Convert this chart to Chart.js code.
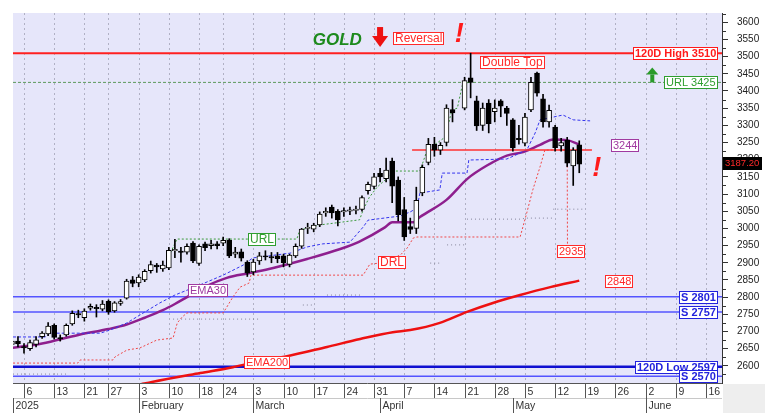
<!DOCTYPE html>
<html><head><meta charset="utf-8">
<script src="https://cdn.jsdelivr.net/npm/chart.js@4.4.1/dist/chart.umd.min.js"></script>
<style>html,body{margin:0;padding:0;background:#fff;overflow:hidden}canvas{display:block}</style>
</head><body>
<canvas id="c" width="781" height="415"></canvas>
<script>
// ---------- DATA ----------
const dates = ['Jan 2','Jan 3','Jan 6','Jan 7','Jan 8','Jan 9','Jan 10','Jan 13','Jan 14','Jan 15','Jan 16','Jan 17','Jan 21','Jan 22','Jan 23','Jan 24','Jan 27','Jan 28','Jan 29','Jan 30','Jan 31',
 'Feb 3','Feb 4','Feb 5','Feb 6','Feb 7','Feb 10','Feb 11','Feb 12','Feb 13','Feb 14','Feb 18','Feb 19','Feb 20','Feb 21','Feb 24','Feb 25','Feb 26','Feb 27','Feb 28',
 'Mar 3','Mar 4','Mar 5','Mar 6','Mar 7','Mar 10','Mar 11','Mar 12','Mar 13','Mar 14','Mar 17','Mar 18','Mar 19','Mar 20','Mar 21','Mar 24','Mar 25','Mar 26','Mar 27','Mar 28','Mar 31',
 'Apr 1','Apr 2','Apr 3','Apr 4','Apr 7','Apr 8','Apr 9','Apr 10','Apr 11','Apr 14','Apr 15','Apr 16','Apr 17','Apr 18','Apr 21','Apr 22','Apr 23','Apr 24','Apr 25','Apr 28','Apr 29','Apr 30',
 'May 1','May 2','May 5','May 6','May 7','May 8','May 9','May 12','May 13','May 14','May 15','May 16'];

const open = [2662,2672,2656,2650,2662,2685,2693,2718,2682,2690,
 2722,2752,2740,2768,2770,2765,2788,2760,2782,2797,
 2850,2841,2850,2877,2893,2882,2885,2935,2934,2931,
 2957,2898,2955,2950,2955,2957,2966,2925,2932,2902,
 2873,2905,2920,2918,2920,2920,2895,2920,2948,3000,
 2998,3010,3045,3062,3050,3048,3050,3052,3055,3110,
 3122,3160,3145,3196,3141,3055,3005,3000,3103,3192,
 3245,3228,3250,3346,null,3350,3438,3371,3300,3365,
 3340,3371,3350,3316,3262,3248,3345,3452,3377,3310,
 3295,3240,3257,3182,3243];
const high = [2682,2685,2665,2675,2685,2700,2726,2722,2690,2722,
 2760,2762,2766,2780,2778,2790,2792,2787,2793,2852,
 2860,2865,2880,2905,2898,2905,2945,2968,2945,2955,
 2962,2952,2960,2965,2962,2975,2970,2945,2940,2906,
 2910,2930,2935,2930,2930,2925,2925,2955,3000,3015,
 3015,3048,3060,3068,3055,3060,3062,3065,3095,3135,
 3160,3175,3205,3205,3150,3090,3030,3120,3185,3262,
 3265,3250,3360,3375,null,3440,3510,3385,3365,3375,
 3374,3375,3355,3320,3300,3335,3440,3455,3390,3359,
 3300,3262,3265,3235,3255];
const low = [2652,2655,2637,2645,2655,2680,2688,2678,2672,2686,
 2718,2740,2730,2762,2742,2760,2750,2756,2776,2794,
 2830,2830,2845,2870,2872,2875,2880,2915,2902,2925,
 2900,2892,2935,2940,2940,2950,2915,2915,2905,2860,
 2865,2895,2908,2900,2900,2888,2888,2915,2942,2985,
 2990,3005,3035,3030,3007,3035,3040,3042,3050,3100,
 3115,3135,3135,3075,3022,2965,2985,2985,3095,3185,
 3210,3215,3240,3310,null,3345,3380,3285,3285,3278,
 3310,3325,3300,3225,3245,3240,3340,3385,3295,3295,
 3225,3225,3180,3125,3162];
const close = [2672,2664,2652,2668,2676,2695,2716,2683,2678,2718,
 2753,2748,2759,2773,2766,2780,2757,2783,2787,2847,
 2840,2858,2875,2895,2888,2893,2936,2939,2930,2948,
 2905,2948,2944,2955,2950,2965,2920,2931,2913,2870,
 2902,2920,2917,2914,2912,2900,2922,2948,2998,3003,
 3010,3042,3050,3045,3025,3052,3054,3056,3090,3128,
 3150,3150,3170,3123,3040,2975,2997,3082,3178,3245,
 3228,3242,3350,3336,null,3430,3425,3298,3350,3305,
 3350,3356,3335,3234,3258,3324,3425,3394,3310,3344,
 3235,3250,3190,3228,3187.2];

// indicator lines (trading-day index, value)
const ema30Idx = [0,5,11,16,19,22,25,27,29,32,35.6,39.4,43.3,48.9,54.4,57.5,61.8,63,66.5,67.6,72,75.5,78.7,82,84.7,87.5,89.7,92,94];
const ema30Val = [2652,2665,2690,2707,2720,2740,2762,2780,2800,2830,2856,2870,2885,2911,2940,2961,3003,3018,3018,3033,3083,3145,3183,3212,3222,3243,3259,3257,3244];
const ema200Idx = [21.3,23.2,31.2,36.6,41.1,45.6,52.2,57.7,63.1,66,70.9,75.4,79.7,84.2,89.2,94];
const ema200Val = [2546,2553,2579,2596,2614,2628,2655,2678,2698,2704,2725,2757,2783,2806,2829,2848];
const blueIdx = [0.18,5.5,6.3,14.6,16.25,19.07,22.05,24.5,27,30.7,35,38.3,39.9,46.1,48.9,51.5,56,58.2,59,64.3,66,67.1,67.6,70.9,71.3,75.4,75.7,82,85.3,86.7,87.5,91.3,93,95.8];
const blueVal = [2684,2684,2695,2695,2704,2725,2757,2783,2806,2832,2864,2893,2914,2928,2946,2955,2960,3004,3024,3036,3048,3059,3103,3112,3161,3161,3199,3202,3228,3278,3316,3330,3316,3313];
const drlIdx = [0.18,10.9,11.3,16.75,17.08,19.07,21.2,24,26.7,27.4,28.2,29,35,35.6,36.6,37.8,39.3,39.6,58.2,59.3,61,62.5,64.5,65.5,66.5,67.1,84.2,85.3,86.3,87.5,88.3,92,92.05];
const drlVal = [2608,2608,2617,2617,2626,2646,2652,2675,2681,2725,2742,2754,2754,2771,2800,2829,2841,2864,2864,2896,2899,2905,2925,2943,2972,2975,2975,3045,3112,3179,3228,3228,2935];
const urlIdx = [25.7,27.35,47.2,47.7,51,57.6,58.2,59.2,60.5,62.4,63.2,67.6,68.8,71.8,72.9,73.8,74.7,75.9];
const urlVal = [2908,2969,2969,2995,3010,3025,3054,3090,3120,3150,3167,3167,3228,3266,3345,3350,3423,3425];
const greyIdx = [0.18,9.1,9.1,26.7,41.1,41.1,48.2,50.2,50.2,52.2,57.7,57.7,69.3,70.9,70.9,72.1,75.4,75.4,75.4,84.2,85.3,89.7,89.7,89.7,94.5];
const greyVal = [2576,2576,null,2736,2736,null,2777,2777,null,2806,2806,null,2899,2899,null,2952,2952,null,3027,3027,3030,3030,null,3056,3056];

// horizontal levels
const levelHigh = 3510, levelURL = 3425, levelS1 = 2801, levelS2 = 2757, levelLow = 2597, levelS3 = 2570;
const necklineVal = 3228, necklineIdx = [66.3, 96.1];

// axis labels
const weekTickIdx = [2,7,12,16,21,26,31,35,40,45,50,55,60,65,70,75,80,85,90,95,100,105,110,115];
const weekTickLabels = ['6','13','21','27','3','10','18','24','3','10','17','24','31','7','14','21','28','5','12','19','26','2','9','16'];
const monthIdx = [0.18,21,40,61,83,105];
const monthLabels = ['2025','February','March','April','May','June'];
const yTickValues = [2600,2650,2700,2750,2800,2850,2900,2950,3000,3050,3100,3150,3200,3250,3300,3350,3400,3450,3500,3550,3600];
const yMinorValues = [2575,2625,2675,2725,2775,2825,2875,2925,2975,3025,3075,3125,3175,3225,3275,3325,3375,3425,3475,3525,3575,3625];

// ---------- LAYOUT CONSTANTS ----------
const X_MIN = 0.1774, X_MAX = 117.651, Y_MIN = 2550, Y_MAX = 3627;
const FONT = 'Liberation Sans, Arial, sans-serif';

// annotations (anchor in data coords)
const notes = [
  {t:'120D High 3510', v:levelHigh, right:true, c:'#ff1a1a', f:'bold 11px '+FONT},
  {t:'URL 3425', v:levelURL, right:true, c:'#2f9e2f', f:'11px '+FONT},
  {t:'S 2801', v:levelS1, right:true, c:'#2222dd', f:'bold 11px '+FONT},
  {t:'S 2757', v:levelS2, right:true, c:'#2222dd', f:'bold 11px '+FONT},
  {t:'120D Low 2597', v:levelLow, right:true, c:'#2222dd', f:'bold 11px '+FONT},
  {t:'S 2570', v:levelS3, right:true, c:'#2222dd', f:'bold 11px '+FONT},
  {t:'3244', i:101.6, v:3244, c:'#a03aa0', f:'11px '+FONT},
  {t:'2848', i:100.6, v:2848, c:'#ff2a2a', f:'11px '+FONT},
  {t:'2935', i:92.6, v:2935, c:'#ff2a2a', f:'11px '+FONT},
  {t:'EMA30', i:32.5, v:2822, c:'#a03aa0', f:'11px '+FONT},
  {t:'EMA200', i:42.2, v:2612, c:'#ff2a2a', f:'11px '+FONT},
  {t:'URL', i:41.5, v:2968, c:'#2f9e2f', f:'12px '+FONT},
  {t:'DRL', i:62.9, v:2902, c:'#ff2a2a', f:'12px '+FONT},
  {t:'Double Top', i:82.9, v:3483, c:'#ff2a2a', f:'12px '+FONT},
  {t:'Reversal', i:67.3, v:3554, c:'#ff2a2a', f:'12px '+FONT}
];

// ---------- BUILD ----------
const wickData = [], bodyData = [];
dates.forEach((d, i) => {
  if (open[i] == null) return;
  wickData.push({x: i, y: [low[i], high[i]]});
  bodyData.push({x: i, y: [Math.min(open[i], close[i]), Math.max(open[i], close[i])], up: close[i] >= open[i]});
});
function pts(xs, ys) { return xs.map((x, k) => ({x: x, y: ys[k]})); }
function lineDS(data, color, width, dash, extra) {
  return Object.assign({type:'line', data:data, borderColor:color, borderWidth:width, borderDash:dash || [],
    pointRadius:0, fill:false, tension:0, spanGaps:false, order:5}, extra || {});
}
function hline(v, color, width, dash) { return lineDS(pts([X_MIN, X_MAX], [v, v]), color, width, dash, {order:6}); }

const datasets = [
  {type:'bar', data:wickData, backgroundColor:'#000', borderWidth:0, barThickness:1, grouped:false, order:2},
  {type:'bar', data:bodyData, backgroundColor: c => (c.raw && c.raw.up) ? '#ffffff' : '#000000',
    borderColor:'#000', borderWidth:1, borderSkipped:false, barThickness:5, grouped:false, order:1},
  hline(levelHigh, '#ff2020', 2),
  hline(levelURL, '#5c9a5c', 1, [3,2]),
  hline(levelS1, '#5454ff', 1.5),
  hline(levelS2, '#5454ff', 1.5),
  hline(levelLow, '#1010d0', 2.5),
  hline(levelS3, '#5454ff', 1.5),
  lineDS(pts(necklineIdx, [necklineVal, necklineVal]), '#ff3030', 1.5),
  lineDS(pts(greyIdx, greyVal), '#85859a', 1, [1,3]),
  lineDS(pts(drlIdx, drlVal), '#f04848', 1, [2,2]),
  lineDS(pts(urlIdx, urlVal), '#3a9a3a', 1, [2,2]),
  lineDS(pts(blueIdx, blueVal), '#3434ee', 1, [3,2]),
  lineDS(pts(ema200Idx, ema200Val), '#ee1111', 2.5, [], {cubicInterpolationMode:'monotone'}),
  lineDS(pts(ema30Idx, ema30Val), '#8e1f8e', 2.5, [], {cubicInterpolationMode:'monotone'})
];

function box(ctx, n, cx, cy, right) {
  ctx.font = n.f;
  const w = Math.round(ctx.measureText(n.t).width) + 4, h = 12;
  const left = Math.round(right ? cx - w : cx - w / 2);
  const top = Math.round(cy - h / 2);
  ctx.fillStyle = '#fff'; ctx.fillRect(left, top, w, h);
  ctx.strokeStyle = n.c; ctx.lineWidth = 1; ctx.setLineDash([]);
  ctx.strokeRect(left + 0.5, top + 0.5, w - 1, h);
  ctx.fillStyle = n.c; ctx.textAlign = 'left'; ctx.textBaseline = 'middle';
  ctx.fillText(n.t, left + 2, top + h / 2 + 1);
}

const deco = {
  id: 'deco',
  beforeDraw(chart) {
    const {ctx, chartArea: a} = chart;
    ctx.save();
    ctx.fillStyle = '#fff'; ctx.fillRect(0, 0, chart.width, chart.height);
    ctx.fillStyle = '#e6e6fa'; ctx.fillRect(a.left, a.top, a.right - a.left, a.bottom - a.top);
    ctx.restore();
  },
  beforeDatasetsDraw(chart) {
    const {ctx, chartArea: a, scales: {x}} = chart;
    ctx.save();
    ctx.strokeStyle = '#b0b0c4'; ctx.lineWidth = 1; ctx.setLineDash([2,3]);
    weekTickIdx.forEach(i => {
      const px = Math.round(x.getPixelForValue(i)) + 0.5;
      ctx.beginPath(); ctx.moveTo(px, a.top); ctx.lineTo(px, a.bottom); ctx.stroke();
    });
    ctx.restore();
  },
  afterDraw(chart) {
    const {ctx, chartArea: a, scales: {x, y}} = chart;
    ctx.save();
    // date rows
    const r1 = a.bottom + 1, h1 = 14, r2 = r1 + h1, h2 = 15;
    ctx.fillStyle = '#fff'; ctx.fillRect(a.left, r1, a.right - a.left, h1 + h2);
    ctx.fillStyle = '#eeeeee'; ctx.fillRect(a.right + 1, r1, 42, h1 + h2);
    ctx.setLineDash([]); ctx.lineWidth = 1;
    ctx.strokeStyle = '#555';
    ctx.beginPath(); ctx.moveTo(a.left, Math.round(a.bottom) + 0.5); ctx.lineTo(a.right, Math.round(a.bottom) + 0.5); ctx.stroke();
    ctx.strokeStyle = '#c8c8c8';
    ctx.beginPath(); ctx.moveTo(a.left, r2 + 0.5); ctx.lineTo(a.right, r2 + 0.5); ctx.stroke();
    ctx.font = '10.5px ' + FONT; ctx.textBaseline = 'middle'; ctx.textAlign = 'left';
    weekTickIdx.forEach((i, k) => {
      const px = Math.round(x.getPixelForValue(i)) + 0.5;
      ctx.strokeStyle = '#555';
      ctx.beginPath(); ctx.moveTo(px, r1); ctx.lineTo(px, r1 + h1); ctx.stroke();
      ctx.fillStyle = '#333'; ctx.fillText(weekTickLabels[k], px + 2, r1 + h1 / 2 + 1);
    });
    monthIdx.forEach((i, k) => {
      const px = Math.round(x.getPixelForValue(i)) + 0.5;
      ctx.strokeStyle = '#555';
      ctx.beginPath(); ctx.moveTo(px, r2); ctx.lineTo(px, r2 + h2); ctx.stroke();
      ctx.fillStyle = '#333'; ctx.fillText(monthLabels[k], px + 2, r2 + h2 / 2 + 1);
    });
    // minor y ticks
    ctx.strokeStyle = '#333';
    yMinorValues.forEach(v => {
      const py = Math.round(y.getPixelForValue(v)) + 0.5;
      ctx.beginPath(); ctx.moveTo(a.right, py); ctx.lineTo(a.right + 4, py); ctx.stroke();
    });
    // label boxes
    notes.forEach(n => {
      const cy = y.getPixelForValue(n.v);
      if (n.right) box(ctx, n, a.right - 4, cy, true);
      else box(ctx, n, x.getPixelForValue(n.i), cy, false);
    });
    // GOLD title
    ctx.font = 'bold italic 17px ' + FONT; ctx.fillStyle = '#1d8a1d'; ctx.textAlign = 'center'; ctx.textBaseline = 'middle';
    ctx.fillText('GOLD', x.getPixelForValue(53.9), y.getPixelForValue(3548));
    // exclamation marks
    ctx.font = 'bold italic 27px ' + FONT; ctx.fillStyle = '#ff1a1a';
    ctx.fillText('!', x.getPixelForValue(74.1), y.getPixelForValue(3565));
    ctx.fillText('!', x.getPixelForValue(96.9), y.getPixelForValue(3175));
    // red down arrow
    let ax = x.getPixelForValue(61), ay = y.getPixelForValue(3557);
    ctx.fillStyle = '#ee1111';
    ctx.fillRect(ax - 3, ay - 10, 6, 10);
    ctx.beginPath(); ctx.moveTo(ax - 8, ay - 1); ctx.lineTo(ax + 8, ay - 1); ctx.lineTo(ax, ay + 10); ctx.closePath(); ctx.fill();
    // green up arrow
    ax = x.getPixelForValue(106.1); ay = y.getPixelForValue(3448);
    ctx.fillStyle = '#2a9a2a';
    ctx.beginPath(); ctx.moveTo(ax - 6, ay); ctx.lineTo(ax + 6, ay); ctx.lineTo(ax, ay - 7); ctx.closePath(); ctx.fill();
    ctx.fillRect(ax - 2, ay, 4, 8);
    // last price tag
    const last = close[close.length - 1];
    const ty = y.getPixelForValue(last) - 1;
    ctx.fillStyle = '#000'; ctx.fillRect(a.right + 1, Math.round(ty - 6.5), 39, 13);
    ctx.fillStyle = '#ff2a2a'; ctx.font = '9.5px ' + FONT; ctx.textAlign = 'left'; ctx.textBaseline = 'middle';
    ctx.fillText(last.toFixed(2), a.right + 3, ty + 0.5);
    ctx.restore();
  }
};

new Chart(document.getElementById('c'), {
  type: 'bar',
  data: {datasets: datasets},
  options: {
    responsive: false, animation: false, devicePixelRatio: 1,
    layout: {padding: {left: 13, top: 13, right: 0, bottom: 32}, autoPadding: false},
    plugins: {legend: {display: false}, tooltip: {enabled: false}},
    scales: {
      x: {type: 'linear', min: X_MIN, max: X_MAX, display: false, offset: false, bounds: 'data'},
      y: {
        position: 'right', min: Y_MIN, max: Y_MAX,
        afterBuildTicks: s => { s.ticks = yTickValues.map(v => ({value: v})); },
        afterFit: s => { s.width = 59; s.paddingTop = 0; s.paddingBottom = 0; },
        grid: {drawOnChartArea: false, drawTicks: true, tickLength: 6, color: '#333', lineWidth: 1},
        border: {display: true, color: '#333', width: 1},
        ticks: {autoSkip: false, padding: 9, color: '#222', font: {family: FONT, size: 10}, callback: v => String(v)}
      }
    }
  },
  plugins: [deco]
});
</script>
</body></html>
